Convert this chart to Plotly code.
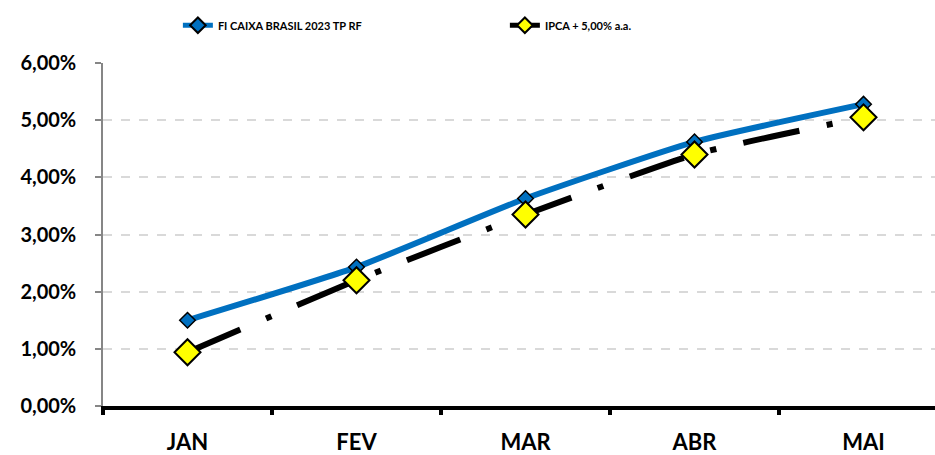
import plotly.graph_objects as go

months = ["JAN", "FEV", "MAR", "ABR", "MAI"]
fi_caixa = [1.50, 2.43, 3.63, 4.62, 5.28]
ipca_5 = [0.94, 2.20, 3.35, 4.40, 5.05]
series_names = ["FI CAIXA BRASIL 2023 TP RF", "IPCA + 5,00% a.a."]

fig = go.Figure()
fig.add_trace(go.Scatter(
    x=months, y=fi_caixa, name=series_names[0], mode="lines+markers",
    line=dict(color="#0070C0", width=6, shape="spline", smoothing=0.5),
    marker=dict(symbol="diamond", size=12, color="#0070C0", line=dict(color="black", width=1.5)),
))
fig.add_trace(go.Scatter(
    x=months, y=ipca_5, name=series_names[1], mode="lines+markers",
    line=dict(color="black", width=6, shape="spline", smoothing=0.5, dash="57px,28px,6px,28px"),
    marker=dict(symbol="diamond", size=20, color="#FFFF00", line=dict(color="black", width=2)),
))

font_family = "Lato"
fig.update_layout(
    width=935, height=455,
    margin=dict(l=103, r=0, t=63, b=45),
    paper_bgcolor="white", plot_bgcolor="white",
    separators=",.",
    showlegend=True,
    font=dict(family=font_family, color="black"),
    legend=dict(
        orientation="h", x=0.09, xanchor="left", y=1.11, yanchor="middle",
        font=dict(family=font_family, size=11, weight="bold", color="black"),
        entrywidth=282, entrywidthmode="pixels",
        itemsizing="constant", bgcolor="rgba(0,0,0,0)",
    ),
    xaxis=dict(
        type="category", range=[-0.5, 4.423],
        showline=True, linecolor="black", linewidth=4,
        ticks="outside", tickson="boundaries", ticklen=5, tickwidth=4, tickcolor="black",
        tickfont=dict(family=font_family, size=22, weight="bold", color="black"),
        ticklabelstandoff=14,
        showgrid=False, zeroline=False,
    ),
    yaxis=dict(
        range=[0, 6], dtick=1, tickformat=".2f", ticksuffix="%",
        showline=True, linecolor="#868686", linewidth=1.5,
        ticks="outside", ticklen=6, tickwidth=1.5, tickcolor="#868686",
        tickfont=dict(family=font_family, size=20, weight="bold", color="black"),
        ticklabelstandoff=15,
        showgrid=True, gridcolor="#D9D9D9", gridwidth=1.5, griddash="dash",
        zeroline=False,
    ),
)

fig.write_html("out.html", config={"displayModeBar": False},
               post_script="document.body.style.margin='0px';")
